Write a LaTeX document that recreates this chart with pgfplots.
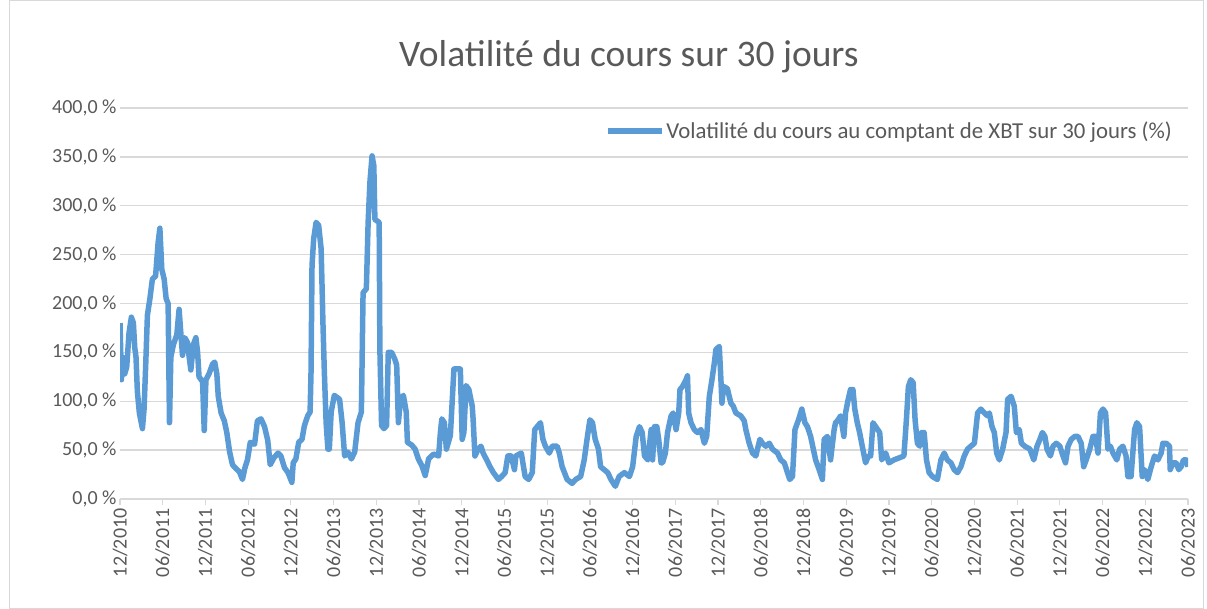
\documentclass[border=0pt]{standalone}
\usepackage{fontspec}
\setmainfont{Carlito}
\usepackage{pgfplots}
\pgfplotsset{compat=1.18}
\definecolor{lineblue}{RGB}{91,155,213}
\definecolor{txt}{RGB}{89,89,89}
\definecolor{gridc}{RGB}{217,217,217}
\begin{document}
\begin{tikzpicture}[x=1pt,y=1pt]
\path[use as bounding box] (0,0) rectangle (1207,609);
\draw[gridc, line width=1pt] (9,0.5) rectangle (1203,608.5);
\node[txt, font=\fontsize{37.5}{42}\selectfont] at (629,552) {Volatilité du cours sur 30 jours};
\begin{axis}[
  at={(120pt,110pt)}, anchor=south west,
  scale only axis, width=1068pt, height=391pt,
  xmin=0, xmax=150, ymin=0, ymax=400,
  axis x line*=bottom, axis y line*=left,
  y axis line style={draw=none},
  x axis line style={gridc, line width=1.2pt},
  ytick={0,50,...,400},
  yticklabels={{0,0 \%},{50,0 \%},{100,0 \%},{150,0 \%},{200,0 \%},{250,0 \%},{300,0 \%},{350,0 \%},{400,0 \%}},
  xtick={0,6,...,150},
  xticklabels={12/2010,06/2011,12/2011,06/2012,12/2012,06/2013,12/2013,06/2014,12/2014,06/2015,12/2015,06/2016,12/2016,06/2017,12/2017,06/2018,12/2018,06/2019,12/2019,06/2020,12/2020,06/2021,12/2021,06/2022,12/2022,06/2023},
  ytick style={draw=none},
  xtick style={gridc, line width=1.2pt},
  xtick align=outside, major tick length=6pt,
  ymajorgrids, major grid style={gridc, line width=1.3pt},
  tick label style={txt, font=\fontsize{20}{24}\selectfont},
  xticklabel style={rotate=90, anchor=east},
  legend style={at={(0.988,0.941)}, anchor=east, draw=none, fill=none, font=\fontsize{22.8}{26}\selectfont, text=txt, inner xsep=1pt},
  legend cell align=left,
  legend image code/.code={\draw[#1, line width=5.5pt] (0pt,0pt) -- (54pt,0pt);},
]
\addplot[lineblue, line width=5.5pt, line join=round, no markers] coordinates {
(0,180)(0.2,122)(0.33,145)(0.66,128)(0.94,135)(1.27,170)(1.6,186)(1.88,180)(2.07,155)(2.25,145)
(2.44,110)(2.72,88)(3.15,72)(3.38,92)(3.6,135)(3.85,188)(4.2,205)(4.55,225)(5.0,228)(5.35,262)
(5.6,277)(5.87,235)(6.2,225)(6.48,205)(6.76,200)(6.95,78)(7.14,145)(7.5,158)(7.98,168)(8.3,194)
(8.54,170)(8.78,147)(9.1,165)(9.48,160)(9.72,145)(9.95,132)(10.3,158)(10.66,165)(10.9,150)(11.1,125)
(11.6,120)(11.83,70)(12.07,122)(12.5,128)(13.0,138)(13.3,140)(13.6,128)(13.8,105)(14.2,88)(14.65,80)
(15.0,68)(15.4,48)(15.8,35)(16.3,31)(16.76,28)(17.2,20)(17.55,32)(17.9,40)(18.3,58)(18.9,56)
(19.3,80)(19.8,82)(20.3,74)(20.75,60)(21.1,35)(21.6,42)(22.2,47)(22.6,44)(23.1,32)(23.6,27)
(24.14,17)(24.33,37)(24.7,41)(25.1,58)(25.56,61)(25.9,75)(26.36,85)(26.7,89)(26.83,130)(26.97,239)
(27.2,266)(27.54,283)(27.9,280)(28.25,256)(28.5,181)(28.7,130)(28.95,78)(29.2,51)(29.4,51)(29.66,89)
(30.1,106)(30.84,102)(31.2,78)(31.55,44)(32.0,48)(32.5,41)(32.96,48)(33.43,78)(33.9,89)(34.14,211)
(34.6,215)(34.85,283)(35.1,324)(35.4,351)(35.65,341)(35.8,286)(36.4,283)(36.5,153)(36.74,75)(37.07,72)
(37.44,75)(37.68,150)(38.15,150)(38.6,143)(38.86,137)(39.1,78)(39.4,102)(39.8,106)(40.2,89)(40.37,58)
(41.0,55)(41.45,51)(41.9,41)(42.4,34)(42.87,24)(43.34,41)(44.05,46)(44.75,44)(45.0,68)(45.2,82)
(45.56,78)(45.84,51)(46.4,65)(46.9,133)(47.8,133)(48.06,61)(48.3,68)(48.6,116)(49.0,112)(49.47,95)
(49.6,81)(49.85,44)(50.3,51)(50.7,54)(51.0,47)(51.5,40)(51.97,33)(52.44,27)(53.15,20)(53.6,23)
(54.1,27)(54.47,44)(54.94,44)(55.4,30)(55.6,44)(56.36,47)(56.9,23)(57.4,20)(57.9,27)(58.25,71)
(58.6,74)(59.05,78)(59.4,61)(59.75,54)(60.3,47)(60.7,54)(61.4,54)(61.7,47)(62.1,33)(62.8,20)
(63.5,16)(64.0,20)(64.7,23)(65.2,40)(65.65,64)(66.0,81)(66.36,78)(66.74,61)(67.2,51)(67.5,33)
(68.0,30)(68.5,27)(68.95,20)(69.57,13)(70.1,23)(70.84,27)(71.55,23)(72.0,33)(72.5,64)(72.96,74)
(73.34,68)(73.67,44)(74.14,40)(74.6,71)(74.8,40)(75.06,74)(75.4,74)(75.66,61)(76.0,37)(76.2,37)
(76.6,47)(76.9,68)(77.4,85)(77.7,88)(78.1,71)(78.47,88)(78.65,112)(79.0,115)(79.5,122)(79.7,126)
(79.87,88)(80.2,78)(80.66,71)(81.1,68)(81.6,71)(82.07,57)(82.4,64)(82.77,105)(83.14,122)(83.47,139)
(83.7,153)(84.17,156)(84.4,122)(84.54,98)(84.78,115)(85.3,113)(85.8,98)(86.13,95)(86.5,88)(87.2,85)
(87.67,80)(87.9,71)(88.37,57)(88.84,47)(89.3,44)(89.87,61)(90.24,57)(90.7,54)(91.2,57)(91.64,51)
(92.35,47)(92.8,40)(93.3,37)(93.75,27)(94.07,20)(94.45,23)(94.8,71)(95.3,81)(95.76,92)(96.2,78)
(96.55,74)(97.0,64)(97.7,40)(98.2,30)(98.65,20)(98.9,61)(99.35,64)(99.8,40)(100.3,71)(100.5,78)
(100.87,81)(101.2,85)(101.67,64)(101.9,88)(102.28,102)(102.6,112)(102.94,112)(103.2,92)(103.55,78)(103.88,68)
(104.25,54)(104.72,37)(105.1,44)(105.43,44)(105.76,78)(106.13,74)(106.7,68)(106.98,40)(107.54,47)(108.0,37)
(108.7,40)(109.4,42)(110.1,44)(110.45,81)(110.73,115)(111.06,122)(111.4,119)(111.67,81)(112.0,57)(112.33,54)
(112.6,68)(112.94,68)(113.27,40)(113.64,27)(114.1,23)(114.8,20)(115.3,40)(115.76,47)(116.2,40)(116.7,37)
(117.16,30)(117.63,27)(118.1,33)(118.57,44)(119.04,51)(119.5,54)(120.0,57)(120.45,88)(120.9,92)(121.4,88)
(121.86,85)(122.1,88)(122.47,74)(122.8,68)(123.13,47)(123.5,40)(123.97,51)(124.44,68)(124.67,102)(125.15,105)
(125.6,95)(125.9,68)(126.3,71)(126.6,57)(127.07,54)(127.8,51)(128.34,40)(128.8,54)(129.2,61)(129.55,68)
(129.9,64)(130.2,51)(130.67,44)(131.05,54)(131.5,57)(132.0,54)(132.45,44)(132.8,37)(133.15,54)(133.6,61)
(134.1,64)(134.55,64)(135.0,57)(135.35,33)(135.7,40)(136.2,51)(136.65,64)(137.0,64)(137.36,47)(137.7,88)
(138.06,92)(138.43,88)(138.76,51)(139.1,54)(139.46,47)(140.0,40)(140.4,51)(140.86,54)(141.3,44)(141.56,23)
(142.0,23)(142.5,71)(142.82,78)(143.2,74)(143.57,23)(143.9,30)(144.36,20)(144.83,33)(145.3,44)(145.77,40)
(146.23,47)(146.47,57)(146.93,57)(147.4,54)(147.5,30)(147.87,37)(148.34,37)(148.7,30)(149.04,33)(149.37,40)
(149.74,40)(150.0,33)
};
\addlegendentry{Volatilité du cours au comptant de XBT sur 30 jours (\%)}
\end{axis}
\end{tikzpicture}
\end{document}
